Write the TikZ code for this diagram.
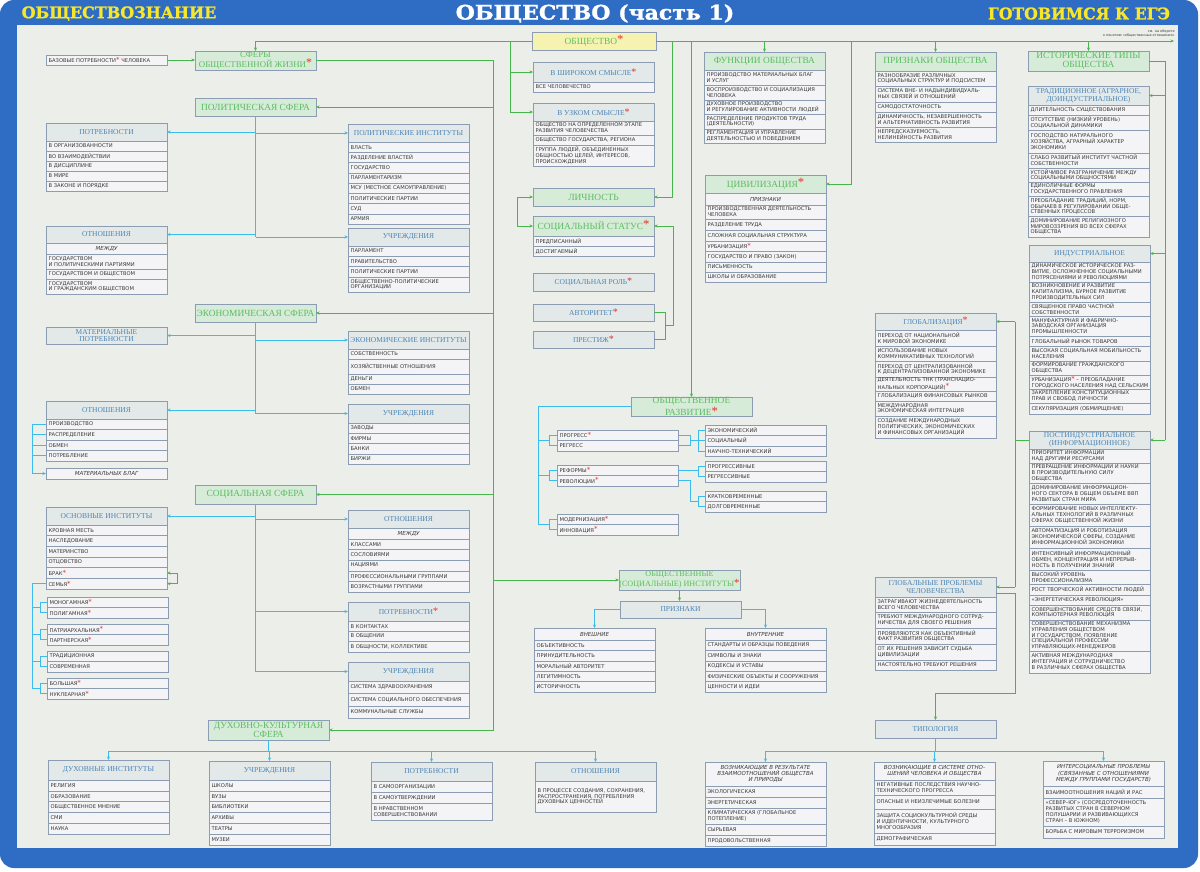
\documentclass[tikz,border=0pt]{standalone}
\usepackage{fontspec}
\usepackage{graphicx}
\usetikzlibrary{arrows.meta,calc}
\newfontfamily\rowfam{DejaVu Sans}
\newfontfamily\serfam{Liberation Serif}
\newfontfamily\titfam{DejaVu Serif}[BoldFeatures={FakeBold=1.2}]
\definecolor{frameblue}{HTML}{2F6CC4}
\definecolor{panel}{HTML}{ECEEE9}
\definecolor{rowc}{HTML}{F4F4F6}
\definecolor{hdc}{HTML}{E3E9E8}
\definecolor{ghc}{HTML}{D6EBD8}
\definecolor{gtxt}{HTML}{5CBC61}
\definecolor{hblue}{HTML}{4A84B6}
\definecolor{bord}{HTML}{8C9CB2}
\definecolor{glc}{HTML}{47B64B}
\definecolor{blc}{HTML}{3ABCEC}
\definecolor{yel}{HTML}{F6F3B0}
\definecolor{ttly}{HTML}{F7E629}
\definecolor{starc}{HTML}{E5322D}
\definecolor{txt}{HTML}{3A3A3A}
\newcommand\zv{\textcolor{starc}{\raisebox{0.1ex}{\scalebox{1.35}{*}}}}
\newcommand\rowf{\rowfam\fontsize{5.2}{5.9}\selectfont}
\newcommand\rowi{\rowfam\itshape\fontsize{5.5}{6.3}\selectfont}
\newcommand\hdf{\serfam\fontsize{7.5}{7.6}\selectfont}
\newcommand\ghf{\serfam\fontsize{9.4}{8.6}\selectfont}
\newcommand\ghs{\serfam\fontsize{8.1}{8.2}\selectfont}
\tikzset{
 base/.style={draw=bord, line width=0.5pt, inner sep=0pt, outer sep=0pt, anchor=north west, minimum width=121pt},
 rw/.style={base, fill=rowc},
 rtxt/.style={anchor=west, inner xsep=2.4pt, inner ysep=0pt, align=left, font=\rowf, text=txt},
 ri/.style={base, fill=rowc, align=center, font=\rowi, text=txt},
 hd/.style={base, fill=hdc, align=center, font=\hdf, text=hblue},
 gh/.style={base, fill=ghc, align=center, font=\ghf, text=gtxt},
 gline/.style={draw=glc, line width=0.9pt},
 gl/.style={gline, -{Stealth[length=3.5pt,width=3pt]}},
 bline/.style={draw=blc, line width=0.9pt},
 bl/.style={bline, -{Stealth[length=3.5pt,width=3pt]}},
 ttl/.style={font=\titfam\bfseries\fontsize{16}{16}\selectfont, text=ttly, inner sep=0pt}
}
\newcommand\BX[5]{\node[#1,minimum height=#4pt] (#2) at (#3) {#5};}
\newcommand\RW[4]{\node[rw,minimum height=#3pt,label={[rtxt]west:#4}] (#1) at (#2.south west) {};}
\newcommand\RF[4]{\node[rw,minimum height=#3pt,label={[rtxt]west:#4}] (#1) at (#2) {};}
\newcommand\RI[4]{\node[ri,minimum height=#3pt] (#1) at (#2.south west) {#4};}
\begin{document}
\begin{tikzpicture}[x=1pt,y=-1pt]
\useasboundingbox (0,0) rectangle (1200,871);
\fill[white] (0,0) rectangle (1200,871);
\fill[frameblue, rounded corners=14pt] (0,0) rectangle (1198,868);
\fill[panel] (17,25) rectangle (1178,848);
% titles
\node[ttl] (tl) at (119,13.5) {ОБЩЕСТВОЗНАНИЕ};
\node[ttl, text=white, font=\titfam\bfseries\fontsize{20}{20}\selectfont] (tm) at (595,13.5) {\scalebox{1.1}[1]{ОБЩЕСТВО (часть 1)}};
\node[ttl] (tr0) at (1079,13.5) {\scalebox{0.98}[1]{ГОТОВИМСЯ К ЕГЭ}};
\node[font=\rowfam\fontsize{3.4}{4.2}\selectfont, text=txt, align=right, anchor=south east, inner sep=0pt] (note) at (1175,37) {см. на обороте\\к понятию «общественные отношения»};

% ===== left: spheres
\RF{bp}{46,55}{10}{БАЗОВЫЕ ПОТРЕБНОСТИ\zv{} ЧЕЛОВЕКА}
\node[gh, font=\serfam\fontsize{8.8}{8.2}\selectfont, minimum height=19pt] (sf) at (195,51) {СФЕРЫ\\ОБЩЕСТВЕННОЙ ЖИЗНИ\zv};
\BX{gh}{ps}{195,98}{18}{ПОЛИТИЧЕСКАЯ СФЕРА}
\BX{hd}{pa}{46,123}{18}{ПОТРЕБНОСТИ}
\RW{pa1}{pa}{10}{В ОРГАНИЗОВАННОСТИ}
\RW{pa2}{pa1}{10}{ВО ВЗАИМОДЕЙСТВИИ}
\RW{pa3}{pa2}{10}{В ДИСЦИПЛИНЕ}
\RW{pa4}{pa3}{10}{В МИРЕ}
\RW{pa5}{pa4}{10}{В ЗАКОНЕ И ПОРЯДКЕ}
\BX{hd}{oa}{46,226}{17}{ОТНОШЕНИЯ}
\RI{oa1}{oa}{11}{МЕЖДУ}
\RW{oa2}{oa1}{15}{ГОСУДАРСТВОМ\\И ПОЛИТИЧЕСКИМИ ПАРТИЯМИ}
\RW{oa3}{oa2}{10}{ГОСУДАРСТВОМ И ОБЩЕСТВОМ}
\RW{oa4}{oa3}{15}{ГОСУДАРСТВОМ\\И ГРАЖДАНСКИМ ОБЩЕСТВОМ}
\BX{hd}{pb}{348,124}{18}{ПОЛИТИЧЕСКИЕ ИНСТИТУТЫ}
\RW{pb1}{pb}{10.25}{ВЛАСТЬ}
\RW{pb2}{pb1}{10.25}{РАЗДЕЛЕНИЕ ВЛАСТЕЙ}
\RW{pb3}{pb2}{10.25}{ГОСУДАРСТВО}
\RW{pb4}{pb3}{10.25}{ПАРЛАМЕНТАРИЗМ}
\RW{pb5}{pb4}{10.25}{МСУ (МЕСТНОЕ САМОУПРАВЛЕНИЕ)}
\RW{pb6}{pb5}{10.25}{ПОЛИТИЧЕСКИЕ ПАРТИИ}
\RW{pb7}{pb6}{10.25}{СУД}
\RW{pb8}{pb7}{10.25}{АРМИЯ}
\BX{hd}{ua}{348,228}{18}{УЧРЕЖДЕНИЯ}
\RW{ua1}{ua}{10}{ПАРЛАМЕНТ}
\RW{ua2}{ua1}{10.5}{ПРАВИТЕЛЬСТВО}
\RW{ua3}{ua2}{10.5}{ПОЛИТИЧЕСКИЕ ПАРТИИ}
\RW{ua4}{ua3}{15}{ОБЩЕСТВЕННО-ПОЛИТИЧЕСКИЕ\\ОРГАНИЗАЦИИ}

\BX{gh}{es}{195,304}{18}{ЭКОНОМИЧЕСКАЯ СФЕРА}
\BX{hd}{mp}{46,327}{17}{МАТЕРИАЛЬНЫЕ\\ПОТРЕБНОСТИ}
\BX{hd}{oe}{46,401}{18}{ОТНОШЕНИЯ}
\RW{oe1}{oe}{10.5}{ПРОИЗВОДСТВО}
\RW{oe2}{oe1}{10.5}{РАСПРЕДЕЛЕНИЕ}
\RW{oe3}{oe2}{10.5}{ОБМЕН}
\RW{oe4}{oe3}{10.5}{ПОТРЕБЛЕНИЕ}
\BX{ri}{mb}{46,468}{11}{МАТЕРИАЛЬНЫХ БЛАГ}
\BX{hd}{ei}{348,331}{18}{ЭКОНОМИЧЕСКИЕ ИНСТИТУТЫ}
\RW{ei1}{ei}{10}{СОБСТВЕННОСТЬ}
\RW{ei2}{ei1}{15}{ХОЗЯЙСТВЕННЫЕ ОТНОШЕНИЯ}
\RW{ei3}{ei2}{10}{ДЕНЬГИ}
\RW{ei4}{ei3}{10}{ОБМЕН}
\BX{hd}{ue}{348,404}{19}{УЧРЕЖДЕНИЯ}
\RW{ue1}{ue}{10.25}{ЗАВОДЫ}
\RW{ue2}{ue1}{10.25}{ФИРМЫ}
\RW{ue3}{ue2}{10.25}{БАНКИ}
\RW{ue4}{ue3}{10.25}{БИРЖИ}

\BX{gh}{ss}{195,485}{19}{СОЦИАЛЬНАЯ СФЕРА}
\BX{hd}{bi}{46,507}{18}{ОСНОВНЫЕ ИНСТИТУТЫ}
\RW{bi1}{bi}{10.67}{КРОВНАЯ МЕСТЬ}
\RW{bi2}{bi1}{10.67}{НАСЛЕДОВАНИЕ}
\RW{bi3}{bi2}{10.67}{МАТЕРИНСТВО}
\RW{bi4}{bi3}{10.67}{ОТЦОВСТВО}
\RW{bi5}{bi4}{10.67}{БРАК\zv}
\RW{bi6}{bi5}{10.67}{СЕМЬЯ\zv}
\RF{fa1}{47,597}{10.5}{МОНОГАМНАЯ\zv}
\RW{fa2}{fa1}{10.5}{ПОЛИГАМНАЯ\zv}
\RF{fb1}{47,624}{10.5}{ПАТРИАРХАЛЬНАЯ\zv}
\RW{fb2}{fb1}{10.5}{ПАРТНЕРСКАЯ\zv}
\RF{fc1}{47,651}{10.5}{ТРАДИЦИОННАЯ}
\RW{fc2}{fc1}{10.5}{СОВРЕМЕННАЯ}
\RF{fd1}{47,678}{10.5}{БОЛЬШАЯ\zv}
\RW{fd2}{fd1}{10.5}{НУКЛЕАРНАЯ\zv}
\BX{hd}{os}{348,510}{18}{ОТНОШЕНИЯ}
\RI{os0}{os}{11}{МЕЖДУ}
\RW{os1}{os0}{10.6}{КЛАССАМИ}
\RW{os2}{os1}{10.6}{СОСЛОВИЯМИ}
\RW{os3}{os2}{10.6}{НАЦИЯМИ}
\RW{os4}{os3}{10.6}{ПРОФЕССИОНАЛЬНЫМИ ГРУППАМИ}
\RW{os5}{os4}{10.6}{ВОЗРАСТНЫМИ ГРУППАМИ}
\BX{hd}{psn}{348,602}{19}{ПОТРЕБНОСТИ\zv}
\RW{psn1}{psn}{10.3}{В КОНТАКТАХ}
\RW{psn2}{psn1}{10.3}{В ОБЩЕНИИ}
\RW{psn3}{psn2}{10.3}{В ОБЩНОСТИ, КОЛЛЕКТИВЕ}
\BX{hd}{usn}{348,662}{19}{УЧРЕЖДЕНИЯ}
\RW{usn1}{usn}{12}{СИСТЕМА ЗДРАВООХРАНЕНИЯ}
\RW{usn2}{usn1}{13}{СИСТЕМА СОЦИАЛЬНОГО ОБЕСПЕЧЕНИЯ}
\RW{usn3}{usn2}{12}{КОММУНАЛЬНЫЕ СЛУЖБЫ}

\BX{gh}{dk}{208,720}{20}{ДУХОВНО-КУЛЬТУРНАЯ\\СФЕРА}
\BX{hd}{di}{48,760}{20}{ДУХОВНЫЕ ИНСТИТУТЫ}
\RW{di1}{di}{10.8}{РЕЛИГИЯ}
\RW{di2}{di1}{10.8}{ОБРАЗОВАНИЕ}
\RW{di3}{di2}{10.8}{ОБЩЕСТВЕННОЕ МНЕНИЕ}
\RW{di4}{di3}{10.8}{СМИ}
\RW{di5}{di4}{10.8}{НАУКА}
\BX{hd}{ud}{209,761}{19}{УЧРЕЖДЕНИЯ}
\RW{ud1}{ud}{10.8}{ШКОЛЫ}
\RW{ud2}{ud1}{10.8}{ВУЗЫ}
\RW{ud3}{ud2}{10.8}{БИБЛИОТЕКИ}
\RW{ud4}{ud3}{10.8}{АРХИВЫ}
\RW{ud5}{ud4}{10.8}{ТЕАТРЫ}
\RW{ud6}{ud5}{10.8}{МУЗЕИ}
\BX{hd}{pd}{371,762}{19}{ПОТРЕБНОСТИ}
\RW{pd1}{pd}{11}{В САМООРГАНИЗАЦИИ}
\RW{pd2}{pd1}{11}{В САМОУТВЕРЖДЕНИИ}
\RW{pd3}{pd2}{17}{В НРАВСТВЕННОМ\\СОВЕРШЕНСТВОВАНИИ}
\BX{hd}{od}{535,762}{19}{ОТНОШЕНИЯ}
\RW{od1}{od}{31}{В ПРОЦЕССЕ СОЗДАНИЯ, СОХРАНЕНИЯ,\\РАСПРОСТРАНЕНИЯ, ПОТРЕБЛЕНИЯ\\ДУХОВНЫХ ЦЕННОСТЕЙ}

% ===== middle
\node[base, fill=yel, minimum width=124pt, minimum height=18pt, font=\ghf, text=gtxt] (ob) at (532,32) {ОБЩЕСТВО\zv};
\BX{hd}{ws}{533,62}{20}{В ШИРОКОМ СМЫСЛЕ\zv}
\RW{ws1}{ws}{10}{ВСЕ ЧЕЛОВЕЧЕСТВО}
\BX{hd}{us}{533,103}{18}{В УЗКОМ СМЫСЛЕ\zv}
\RW{us1}{us}{14}{ОБЩЕСТВО НА ОПРЕДЕЛЕННОМ ЭТАПЕ\\РАЗВИТИЯ ЧЕЛОВЕЧЕСТВА}
\RW{us2}{us1}{10}{ОБЩЕСТВО ГОСУДАРСТВА, РЕГИОНА}
\RW{us3}{us2}{21}{ГРУППА ЛЮДЕЙ, ОБЪЕДИНЕННЫХ\\ОБЩНОСТЬЮ ЦЕЛЕЙ, ИНТЕРЕСОВ,\\ПРОИСХОЖДЕНИЯ}
\BX{gh}{li}{533,188}{18}{ЛИЧНОСТЬ}
\BX{gh}{sst}{533,216}{20}{СОЦИАЛЬНЫЙ СТАТУС\zv}
\RW{sst1}{sst}{10}{ПРЕДПИСАННЫЙ}
\RW{sst2}{sst1}{10}{ДОСТИГАЕМЫЙ}
\BX{hd}{sr}{533,273}{18}{СОЦИАЛЬНАЯ РОЛЬ\zv}
\BX{hd}{av}{533,304}{17}{АВТОРИТЕТ\zv}
\BX{hd}{pr}{533,331}{17}{ПРЕСТИЖ\zv}
\BX{gh}{orz}{631,397}{19}{ОБЩЕСТВЕННОЕ\\РАЗВИТИЕ\zv}
\RF{pg1}{557,430}{10.5}{ПРОГРЕСС\zv}
\RW{pg2}{pg1}{10.5}{РЕГРЕСС}
\RF{rf1}{557,465}{10.5}{РЕФОРМЫ\zv}
\RW{rf2}{rf1}{10.5}{РЕВОЛЮЦИИ\zv}
\RF{md1}{557,514}{10.5}{МОДЕРНИЗАЦИЯ\zv}
\RW{md2}{md1}{10.5}{ИННОВАЦИЯ\zv}
\RF{ek1}{705,425}{10.5}{ЭКОНОМИЧЕСКИЙ}
\RW{ek2}{ek1}{10.5}{СОЦИАЛЬНЫЙ}
\RW{ek3}{ek2}{10.5}{НАУЧНО-ТЕХНИЧЕСКИЙ}
\RF{pv1}{705,461}{10.5}{ПРОГРЕССИВНЫЕ}
\RW{pv2}{pv1}{10.5}{РЕГРЕССИВНЫЕ}
\RF{kv1}{705,491}{10.5}{КРАТКОВРЕМЕННЫЕ}
\RW{kv2}{kv1}{10.5}{ДОЛГОВРЕМЕННЫЕ}
\node[gh, font=\ghs, minimum height=20pt] (oin) at (619,570) {ОБЩЕСТВЕННЫЕ\\(СОЦИАЛЬНЫЕ) ИНСТИТУТЫ\zv};
\BX{hd}{pz}{620,601}{17}{ПРИЗНАКИ}
\BX{ri}{vn}{534,628}{12}{ВНЕШНИЕ}
\RW{vn1}{vn}{10.4}{ОБЪЕКТИВНОСТЬ}
\RW{vn2}{vn1}{10.4}{ПРИНУДИТЕЛЬНОСТЬ}
\RW{vn3}{vn2}{10.4}{МОРАЛЬНЫЙ АВТОРИТЕТ}
\RW{vn4}{vn3}{10.4}{ЛЕГИТИМНОСТЬ}
\RW{vn5}{vn4}{10.4}{ИСТОРИЧНОСТЬ}
\BX{ri}{vt}{705,628}{12}{ВНУТРЕННИЕ}
\RW{vt1}{vt}{10.4}{СТАНДАРТЫ И ОБРАЗЦЫ ПОВЕДЕНИЯ}
\RW{vt2}{vt1}{10.4}{СИМВОЛЫ И ЗНАКИ}
\RW{vt3}{vt2}{10.4}{КОДЕКСЫ И УСТАВЫ}
\RW{vt4}{vt3}{10.4}{ФИЗИЧЕСКИЕ ОБЪЕКТЫ И СООРУЖЕНИЯ}
\RW{vt5}{vt4}{10.4}{ЦЕННОСТИ И ИДЕИ}

% ===== right
\BX{gh}{fo}{704,52}{18}{ФУНКЦИИ ОБЩЕСТВА}
\RW{fo1}{fo}{15}{ПРОИЗВОДСТВО МАТЕРИАЛЬНЫХ БЛАГ\\И УСЛУГ}
\RW{fo2}{fo1}{15}{ВОСПРОИЗВОДСТВО И СОЦИАЛИЗАЦИЯ\\ЧЕЛОВЕКА}
\RW{fo3}{fo2}{14}{ДУХОВНОЕ ПРОИЗВОДСТВО\\И РЕГУЛИРОВАНИЕ АКТИВНОСТИ ЛЮДЕЙ}
\RW{fo4}{fo3}{15}{РАСПРЕДЕЛЕНИЕ ПРОДУКТОВ ТРУДА\\(ДЕЯТЕЛЬНОСТИ)}
\RW{fo5}{fo4}{14}{РЕГЛАМЕНТАЦИЯ И УПРАВЛЕНИЕ\\ДЕЯТЕЛЬНОСТЬЮ И ПОВЕДЕНИЕМ}
\BX{gh}{cv}{705,175}{18}{ЦИВИЛИЗАЦИЯ\zv}
\RI{cv0}{cv}{12}{ПРИЗНАКИ}
\RW{cv1}{cv0}{14}{ПРОИЗВОДСТВЕННАЯ ДЕЯТЕЛЬНОСТЬ\\ЧЕЛОВЕКА}
\RW{cv2}{cv1}{11}{РАЗДЕЛЕНИЕ ТРУДА}
\RW{cv3}{cv2}{11}{СЛОЖНАЯ СОЦИАЛЬНАЯ СТРУКТУРА}
\RW{cv4}{cv3}{10}{УРБАНИЗАЦИЯ\zv}
\RW{cv5}{cv4}{11}{ГОСУДАРСТВО И ПРАВО (ЗАКОН)}
\RW{cv6}{cv5}{10}{ПИСЬМЕННОСТЬ}
\RW{cv7}{cv6}{10}{ШКОЛЫ И ОБРАЗОВАНИЕ}
\BX{gh}{po}{875,52}{19}{ПРИЗНАКИ ОБЩЕСТВА}
\RW{po1}{po}{15}{РАЗНООБРАЗИЕ РАЗЛИЧНЫХ\\СОЦИАЛЬНЫХ СТРУКТУР И ПОДСИСТЕМ}
\RW{po2}{po1}{16}{СИСТЕМА ВНЕ- И НАДЫНДИВИДУАЛЬ-\\НЫХ СВЯЗЕЙ И ОТНОШЕНИЙ}
\RW{po3}{po2}{10}{САМОДОСТАТОЧНОСТЬ}
\RW{po4}{po3}{15}{ДИНАМИЧНОСТЬ, НЕЗАВЕРШЕННОСТЬ\\И АЛЬТЕРНАТИВНОСТЬ РАЗВИТИЯ}
\RW{po5}{po4}{15}{НЕПРЕДСКАЗУЕМОСТЬ,\\НЕЛИНЕЙНОСТЬ РАЗВИТИЯ}
\BX{gh}{it}{1028,51}{20}{ИСТОРИЧЕСКИЕ ТИПЫ\\ОБЩЕСТВА}
\BX{hd}{tr}{1028,86}{19}{ТРАДИЦИОННОЕ (АГРАРНОЕ,\\ДОИНДУСТРИАЛЬНОЕ)}
\RW{tr1}{tr}{10}{ДЛИТЕЛЬНОСТЬ СУЩЕСТВОВАНИЯ}
\RW{tr2}{tr1}{15}{ОТСУТСТВИЕ (НИЗКИЙ УРОВЕНЬ)\\СОЦИАЛЬНОЙ ДИНАМИКИ}
\RW{tr3}{tr2}{23}{ГОСПОДСТВО НАТУРАЛЬНОГО\\ХОЗЯЙСТВА, АГРАРНЫЙ ХАРАКТЕР\\ЭКОНОМИКИ}
\RW{tr4}{tr3}{15}{СЛАБО РАЗВИТЫЙ ИНСТИТУТ ЧАСТНОЙ\\СОБСТВЕННОСТИ}
\RW{tr5}{tr4}{14}{УСТОЙЧИВОЕ РАЗГРАНИЧЕНИЕ МЕЖДУ\\СОЦИАЛЬНЫМИ ОБЩНОСТЯМИ}
\RW{tr6}{tr5}{14}{ЕДИНОЛИЧНЫЕ ФОРМЫ\\ГОСУДАРСТВЕННОГО ПРАВЛЕНИЯ}
\RW{tr7}{tr6}{20}{ПРЕОБЛАДАНИЕ ТРАДИЦИЙ, НОРМ,\\ОБЫЧАЕВ В РЕГУЛИРОВАНИИ ОБЩЕ-\\СТВЕННЫХ ПРОЦЕССОВ}
\RW{tr8}{tr7}{21}{ДОМИНИРОВАНИЕ РЕЛИГИОЗНОГО\\МИРОВОЗЗРЕНИЯ ВО ВСЕХ СФЕРАХ\\ОБЩЕСТВА}
\BX{hd}{ind}{1029,245}{17}{ИНДУСТРИАЛЬНОЕ}
\RW{ind1}{ind}{20}{ДИНАМИЧЕСКОЕ ИСТОРИЧЕСКОЕ РАЗ-\\ВИТИЕ, ОСЛОЖНЕННОЕ СОЦИАЛЬНЫМИ\\ПОТРЯСЕНИЯМИ И РЕВОЛЮЦИЯМИ}
\RW{ind2}{ind1}{20}{ВОЗНИКНОВЕНИЕ И РАЗВИТИЕ\\КАПИТАЛИЗМА, БУРНОЕ РАЗВИТИЕ\\ПРОИЗВОДИТЕЛЬНЫХ СИЛ}
\RW{ind3}{ind2}{14}{СВЯЩЕННОЕ ПРАВО ЧАСТНОЙ\\СОБСТВЕННОСТИ}
\RW{ind4}{ind3}{20}{МАНУФАКТУРНАЯ И ФАБРИЧНО-\\ЗАВОДСКАЯ ОРГАНИЗАЦИЯ\\ПРОМЫШЛЕННОСТИ}
\RW{ind5}{ind4}{10}{ГЛОБАЛЬНЫЙ РЫНОК ТОВАРОВ}
\RW{ind6}{ind5}{15}{ВЫСОКАЯ СОЦИАЛЬНАЯ МОБИЛЬНОСТЬ\\НАСЕЛЕНИЯ}
\RW{ind7}{ind6}{14}{ФОРМИРОВАНИЕ ГРАЖДАНСКОГО\\ОБЩЕСТВА}
\RW{ind8}{ind7}{14}{УРБАНИЗАЦИЯ\zv{} – ПРЕОБЛАДАНИЕ\\ГОРОДСКОГО НАСЕЛЕНИЯ НАД СЕЛЬСКИМ}
\RW{ind9}{ind8}{14}{ЗАКРЕПЛЕНИЕ КОНСТИТУЦИОННЫХ\\ПРАВ И СВОБОД ЛИЧНОСТИ}
\RW{ind10}{ind9}{11}{СЕКУЛЯРИЗАЦИЯ (ОБМИРЩЕНИЕ)}
\BX{hd}{pin}{1029,431}{18}{ПОСТИНДУСТРИАЛЬНОЕ\\(ИНФОРМАЦИОННОЕ)}
\RW{pin1}{pin}{14}{ПРИОРИТЕТ ИНФОРМАЦИИ\\НАД ДРУГИМИ РЕСУРСАМИ}
\RW{pin2}{pin1}{20}{ПРЕВРАЩЕНИЕ ИНФОРМАЦИИ И НАУКИ\\В ПРОИЗВОДИТЕЛЬНУЮ СИЛУ\\ОБЩЕСТВА}
\RW{pin3}{pin2}{21}{ДОМИНИРОВАНИЕ ИНФОРМАЦИОН-\\НОГО СЕКТОРА В ОБЩЕМ ОБЪЕМЕ ВВП\\РАЗВИТЫХ СТРАН МИРА}
\RW{pin4}{pin3}{22}{ФОРМИРОВАНИЕ НОВЫХ ИНТЕЛЛЕКТУ-\\АЛЬНЫХ ТЕХНОЛОГИЙ В РАЗЛИЧНЫХ\\СФЕРАХ ОБЩЕСТВЕННОЙ ЖИЗНИ}
\RW{pin5}{pin4}{22}{АВТОМАТИЗАЦИЯ И РОБОТИЗАЦИЯ\\ЭКОНОМИЧЕСКОЙ СФЕРЫ, СОЗДАНИЕ\\ИНФОРМАЦИОННОЙ ЭКОНОМИКИ}
\RW{pin6}{pin5}{22}{ИНТЕНСИВНЫЙ ИНФОРМАЦИОННЫЙ\\ОБМЕН, КОНЦЕНТРАЦИЯ И НЕПРЕРЫВ-\\НОСТЬ В ПОЛУЧЕНИИ ЗНАНИЙ}
\RW{pin7}{pin6}{14}{ВЫСОКИЙ УРОВЕНЬ\\ПРОФЕССИОНАЛИЗМА}
\RW{pin8}{pin7}{11}{РОСТ ТВОРЧЕСКОЙ АКТИВНОСТИ ЛЮДЕЙ}
\RW{pin9}{pin8}{10}{«ЭНЕРГЕТИЧЕСКАЯ РЕВОЛЮЦИЯ»}
\RW{pin10}{pin9}{15}{СОВЕРШЕНСТВОВАНИЕ СРЕДСТВ СВЯЗИ,\\КОМПЬЮТЕРНАЯ РЕВОЛЮЦИЯ}
\RW{pin11}{pin10}{31}{СОВЕРШЕНСТВОВАНИЕ МЕХАНИЗМА\\УПРАВЛЕНИЯ ОБЩЕСТВОМ\\И ГОСУДАРСТВОМ, ПОЯВЛЕНИЕ\\СПЕЦИАЛЬНОЙ ПРОФЕССИИ\\УПРАВЛЯЮЩИХ-МЕНЕДЖЕРОВ}
\RW{pin12}{pin11}{22}{АКТИВНАЯ МЕЖДУНАРОДНАЯ\\ИНТЕГРАЦИЯ И СОТРУДНИЧЕСТВО\\В РАЗЛИЧНЫХ СФЕРАХ ОБЩЕСТВА}
\BX{hd}{gb}{875,313}{17}{ГЛОБАЛИЗАЦИЯ\zv}
\RW{gb1}{gb}{16}{ПЕРЕХОД ОТ НАЦИОНАЛЬНОЙ\\К МИРОВОЙ ЭКОНОМИКЕ}
\RW{gb2}{gb1}{15}{ИСПОЛЬЗОВАНИЕ НОВЫХ\\КОММУНИКАТИВНЫХ ТЕХНОЛОГИЙ}
\RW{gb3}{gb2}{16}{ПЕРЕХОД ОТ ЦЕНТРАЛИЗОВАННОЙ\\К ДЕЦЕНТРАЛИЗОВАННОЙ ЭКОНОМИКЕ}
\RW{gb4}{gb3}{14}{ДЕЯТЕЛЬНОСТЬ ТНК (ТРАНСНАЦИО-\\НАЛЬНЫХ КОРПОРАЦИЙ)\zv}
\RW{gb5}{gb4}{10}{ГЛОБАЛИЗАЦИЯ ФИНАНСОВЫХ РЫНКОВ}
\RW{gb6}{gb5}{15}{МЕЖДУНАРОДНАЯ\\ЭКОНОМИЧЕСКАЯ ИНТЕГРАЦИЯ}
\RW{gb7}{gb6}{22}{СОЗДАНИЕ МЕЖДУНАРОДНЫХ\\ПОЛИТИЧЕСКИХ, ЭКОНОМИЧЕСКИХ\\И ФИНАНСОВЫХ ОРГАНИЗАЦИЙ}
\BX{hd}{gp}{875,577}{20}{ГЛОБАЛЬНЫЕ ПРОБЛЕМЫ\\ЧЕЛОВЕЧЕСТВА}
\RW{gp1}{gp}{15}{ЗАТРАГИВАЮТ ЖИЗНЕДЕЯТЕЛЬНОСТЬ\\ВСЕГО ЧЕЛОВЕЧЕСТВА}
\RW{gp2}{gp1}{16}{ТРЕБУЮТ МЕЖДУНАРОДНОГО СОТРУД-\\НИЧЕСТВА ДЛЯ СВОЕГО РЕШЕНИЯ}
\RW{gp3}{gp2}{16}{ПРОЯВЛЯЮТСЯ КАК ОБЪЕКТИВНЫЙ\\ФАКТ РАЗВИТИЯ ОБЩЕСТВА}
\RW{gp4}{gp3}{16}{ОТ ИХ РЕШЕНИЯ ЗАВИСИТ СУДЬБА\\ЦИВИЛИЗАЦИИ}
\RW{gp5}{gp4}{10}{НАСТОЯТЕЛЬНО ТРЕБУЮТ РЕШЕНИЯ}
\BX{hd}{ty}{875,720}{18}{ТИПОЛОГИЯ}
\BX{ri}{ta}{705,762}{24}{ВОЗНИКАЮЩИЕ В РЕЗУЛЬТАТЕ\\ВЗАИМООТНОШЕНИЙ ОБЩЕСТВА\\И ПРИРОДЫ}
\RW{ta1}{ta}{11}{ЭКОЛОГИЧЕСКАЯ}
\RW{ta2}{ta1}{11}{ЭНЕРГЕТИЧЕСКАЯ}
\RW{ta3}{ta2}{16}{КЛИМАТИЧЕСКАЯ (ГЛОБАЛЬНОЕ\\ПОТЕПЛЕНИЕ)}
\RW{ta4}{ta3}{11}{СЫРЬЕВАЯ}
\RW{ta5}{ta4}{11}{ПРОДОВОЛЬСТВЕННАЯ}
\BX{ri}{tb}{874,762}{18}{ВОЗНИКАЮЩИЕ В СИСТЕМЕ ОТНО-\\ШЕНИЙ ЧЕЛОВЕКА И ОБЩЕСТВА}
\RW{tb1}{tb}{15}{НЕГАТИВНЫЕ ПОСЛЕДСТВИЯ НАУЧНО-\\ТЕХНИЧЕСКОГО ПРОГРЕССА}
\RW{tb2}{tb1}{14}{ОПАСНЫЕ И НЕИЗЛЕЧИМЫЕ БОЛЕЗНИ}
\RW{tb3}{tb2}{24}{ЗАЩИТА СОЦИОКУЛЬТУРНОЙ СРЕДЫ\\И ИДЕНТИЧНОСТИ, КУЛЬТУРНОГО\\МНОГООБРАЗИЯ}
\RW{tb4}{tb3}{12}{ДЕМОГРАФИЧЕСКАЯ}
\BX{ri}{tc}{1043,761}{25}{ИНТЕРСОЦИАЛЬНЫЕ ПРОБЛЕМЫ\\(СВЯЗАННЫЕ С ОТНОШЕНИЯМИ\\МЕЖДУ ГРУППАМИ ГОСУДАРСТВ)}
\RW{tc1}{tc}{12}{ВЗАИМООТНОШЕНИЯ НАЦИЙ И РАС}
\RW{tc2}{tc1}{28}{«СЕВЕР–ЮГ» (СОСРЕДОТОЧЕННОСТЬ\\РАЗВИТЫХ СТРАН В СЕВЕРНОМ\\ПОЛУШАРИИ И РАЗВИВАЮЩИХСЯ\\СТРАН – В ЮЖНОМ)}
\RW{tc3}{tc2}{12}{БОРЬБА С МИРОВЫМ ТЕРРОРИЗМОМ}

% ===== green connectors
\coordinate (ja) at (510,41);
\coordinate (jb) at (493,0);
\coordinate (tend) at (1174,41);
\coordinate (jc) at (672,41);
\coordinate (jd) at (851,41);
\coordinate (je) at (517,0);
\coordinate (jf) at (665,0);
\coordinate (jg) at (673,325.5);
\coordinate (jh) at (1165,0);
\coordinate (ji) at (1015,0);
\coordinate (gpo) at ([yshift=-6pt]gp.east);
\coordinate (jj) at ($(ty.north)+(0,-27)$);
\draw[gl] (bp.east) -- (bp.east -| sf.west);
\draw[gl] (ob.west) -| (sf.north);
\draw[gline] (ja) -- (ja |- us.west);
\draw[gl] (ja |- ws.west) -- (ws.west);
\draw[gl] (ja |- us.west) -- (us.west);
\draw[gl] (sf.east) -| (jb |- dk.east) -- (dk.east);
\draw[gl] (jb |- oin.west) -- (oin.west);
\draw[gl] (jb |- ps.east) -- (ps.east);
\draw[gl] (jb |- es.east) -- (es.east);
\draw[gl] (jb |- ss.east) -- (ss.east);
\draw[gl] (ob.east) -- (tend);
\draw[gl] (fo.north |- ob.east) -- (fo.north);
\draw[gl] (po.north |- ob.east) -- (po.north);
\draw[gl] (it.north |- ob.east) -- (it.north);
\draw[gl] (jc) |- (li.east);
\draw[gl] (orz.north |- ob.east) -- (orz.north);
\draw[gl] (jd) |- (cv.east);
\draw[gline] (je |- li.west) -- (je |- sst.west);
\draw[gl] (je |- li.west) -- (li.west);
\draw[gl] (je |- sst.west) -- (sst.west);
\draw[gline] (av.east) -- (jf |- av.east) -- (jf |- pr.east) -- (pr.east);
\draw[gline] (jf |- jg) -- (jg);
\draw[gl] (jg) |- (sst.east);
\draw[gline] (it.east) -| (jh |- pin.east);
\draw[gl] (jh |- tr.east) -- (tr.east);
\draw[gl] (jh |- ind.east) -- (ind.east);
\draw[gl] (jh |- pin.east) -- (pin.east);
\draw[gline] (pin.west) -- (ji |- pin.west);
\draw[gline] (ji |- gb.east) -- (ji |- gp.east);
\draw[gl] (ji |- gb.east) -- (gb.east);
\draw[gl] (ji |- gp.east) -- (gp.east);
\draw[gl] (gpo) -- (gpo -| ji) |- (jj) -- (ty.north);
\draw[gl] (oin.south) -- (oin.south |- pz.north);
\coordinate (kc) at (177,0);
\draw[gline] (kc |- bi5.east) -- (kc |- bi6.east);
\draw[gl] (kc |- bi5.east) -- (bi5.east);
\draw[gl] (kc |- bi6.east) -- (bi6.east);

% ===== blue connectors
\draw[bline] (ps.south) -- (ps.south |- ua.west);
\draw[bl] (ps.south |- pa.east) -- (pa.east);
\draw[bl] (ps.south |- pb.west) -- (pb.west);
\draw[bl] (ps.south |- oa.east) -- (oa.east);
\draw[bl] (ps.south |- ua.west) -- (ua.west);
\draw[bline] (es.south) -- (es.south |- ue.west);
\draw[bl] (es.south |- mp.east) -- (mp.east);
\draw[bl] (es.south |- ei.west) -- (ei.west);
\draw[bl] (es.south |- oe.east) -- (oe.east);
\draw[bl] (es.south |- ue.west) -- (ue.west);
\draw[bline] (ss.south) -- (ss.south |- usn.west);
\draw[bl] (ss.south |- bi.east) -- (bi.east);
\draw[bl] (ss.south |- os.west) -- (os.west);
\draw[bl] (ss.south |- psn.west) -- (psn.west);
\draw[bl] (ss.south |- usn.west) -- (usn.west);
\coordinate (ka) at (32,0);
\coordinate (kb) at (40,0);
\draw[bline] (oe1.west) -- (ka |- oe1.west) -- (ka |- mb.west);
\draw[bline] (ka |- oe2.west) -- (oe2.west);
\draw[bline] (ka |- oe3.west) -- (oe3.west);
\draw[bline] (ka |- oe4.west) -- (oe4.west);
\draw[bl] (ka |- mb.west) -- (mb.west);
\draw[bline] (bi6.west) -- (ka |- bi6.west) -- (ka |- fd1.south west);
\foreach \p in {fa,fb,fc,fd}{
  \draw[bline] (ka |- \p1.south west) -- (kb |- \p1.south west);
  \draw[bline] (\p1.west) -- (kb |- \p1.west) -- (kb |- \p2.west) -- (\p2.west);
}
\coordinate (kd) at ($(dk.south)+(0,11)$);
\draw[bline] (dk.south) -- (kd);
\draw[bline] (di.north |- kd) -- (od.north |- kd);
\draw[bl] (di.north |- kd) -- (di.north);
\draw[bl] (ud.north |- kd) -- (ud.north);
\draw[bl] (pd.north |- kd) -- (pd.north);
\draw[bl] (od.north |- kd) -- (od.north);
\coordinate (ke) at (538,0);
\coordinate (kf) at (549,0);
\draw[bline] (orz.west) -- (ke |- orz.west) -- (ke |- md1.south west);
\foreach \p in {pg,rf,md}{
  \draw[bline] (ke |- \p1.south west) -- (kf |- \p1.south west);
  \draw[bline] (\p1.west) -- (kf |- \p1.west) -- (kf |- \p2.west) -- (\p2.west);
}
\coordinate (kg) at (690,0);
\coordinate (kh) at (698,0);
\draw[bline] (pg1.east) -- (kg |- pg1.east) -- (kg |- pg2.east) -- (pg2.east);
\draw[bline] (kg |- pg1.south east) -- (kh |- pg1.south east);
\draw[bline] (ek1.west) -- (kh |- ek1.west) -- (kh |- ek3.west) -- (ek3.west);
\draw[bline] (kh |- ek2.west) -- (ek2.west);
\draw[bline] (rf1.east) -- (kh |- rf1.east);
\draw[bline] (pv1.west) -- (kh |- pv1.west) -- (kh |- pv2.west) -- (pv2.west);
\draw[bline] (rf2.east) -- (kg |- rf2.east) -- (kg |- kv1.south west) -- (kh |- kv1.south west);
\draw[bline] (kv1.west) -- (kh |- kv1.west) -- (kh |- kv2.west) -- (kv2.west);
\draw[bl] (pz.west) -| (vn.north);
\draw[bl] (pz.east) -| (vt.north);
\coordinate (kt) at ($(ty.south)+(0,13)$);
\draw[bline] (ty.south) -- (kt);
\draw[bline] (ta.north |- kt) -- (tc.north |- kt);
\draw[bl] (ta.north |- kt) -- (ta.north);
\draw[bl] (tb.north |- kt) -- (tb.north);
\draw[bl] (tc.north |- kt) -- (tc.north);
\end{tikzpicture}
\end{document}
